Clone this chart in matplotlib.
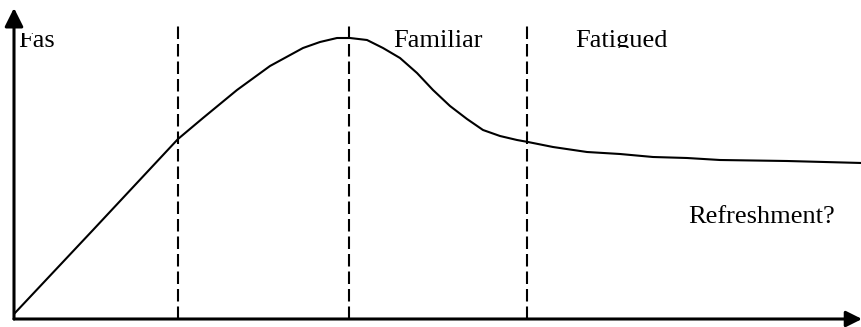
import matplotlib
matplotlib.use('Agg')
import matplotlib.pyplot as plt
from matplotlib.transforms import Bbox

# curve (x = time, y = interest), axis units = pixels from origin
time = [0, 79, 164, 189, 223, 256, 289, 306, 323, 336, 353, 369, 386, 403, 419, 436,
        453, 469, 486, 503, 514, 539, 573, 606, 639, 673, 706, 773, 848]
interest = [5, 89, 180, 201, 229, 253, 271, 277, 281, 281, 279, 271, 261, 246, 229, 213,
            200, 189, 183, 179, 177, 172, 167, 165, 162, 161, 159, 158, 156]

# phase boundaries
boundaries = [164, 335, 513]
boundary_top = 294

# labels
labels = ['Fas', 'Familiar', 'Fatigued']
label_x = [4, 379, 561]
label_y = 272
note = 'Refreshment?'

W, H = 862, 327
plt.rcParams['lines.scale_dashes'] = False
fig = plt.figure(figsize=(W / 100, H / 100), dpi=100)
ax = fig.add_axes([14 / W, 8 / H, 848 / W, 311 / H])
ax.set_xlim(0, 848)
ax.set_ylim(0, 311)
ax.axis('off')

# dashed phase lines
for b in boundaries:
    ax.plot([b, b], [0, boundary_top], color='black', lw=1.5, dashes=(9, 3.6))

# curve
ax.plot(time, interest, color='black', lw=1.5, solid_joinstyle='round', solid_capstyle='round')

# axes arrows
ax.annotate('', xy=(0, 311), xytext=(0, 0),
            arrowprops=dict(arrowstyle='-|>', color='black', lw=2.2, mutation_scale=28,
                            shrinkA=0, shrinkB=0), annotation_clip=False)
ax.annotate('', xy=(848, 0), xytext=(0, 0),
            arrowprops=dict(arrowstyle='-|>', color='black', lw=2.2, mutation_scale=24,
                            shrinkA=0, shrinkB=0), annotation_clip=False)

# text (boxes clipped like in the original)
clip_tops = [294, 300, 300]
for lab, x, top in zip(labels, label_x, clip_tops):
    t = ax.text(x, label_y, lab, fontsize=19, family='Liberation Serif',
                va='baseline', ha='left', clip_on=True)
    t.set_clip_box(Bbox([[0, 279], [W, top]]))

ax.text(674, 96, note, fontsize=19, family='Liberation Serif', va='baseline', ha='left')

fig.savefig('out.png', dpi=100)
